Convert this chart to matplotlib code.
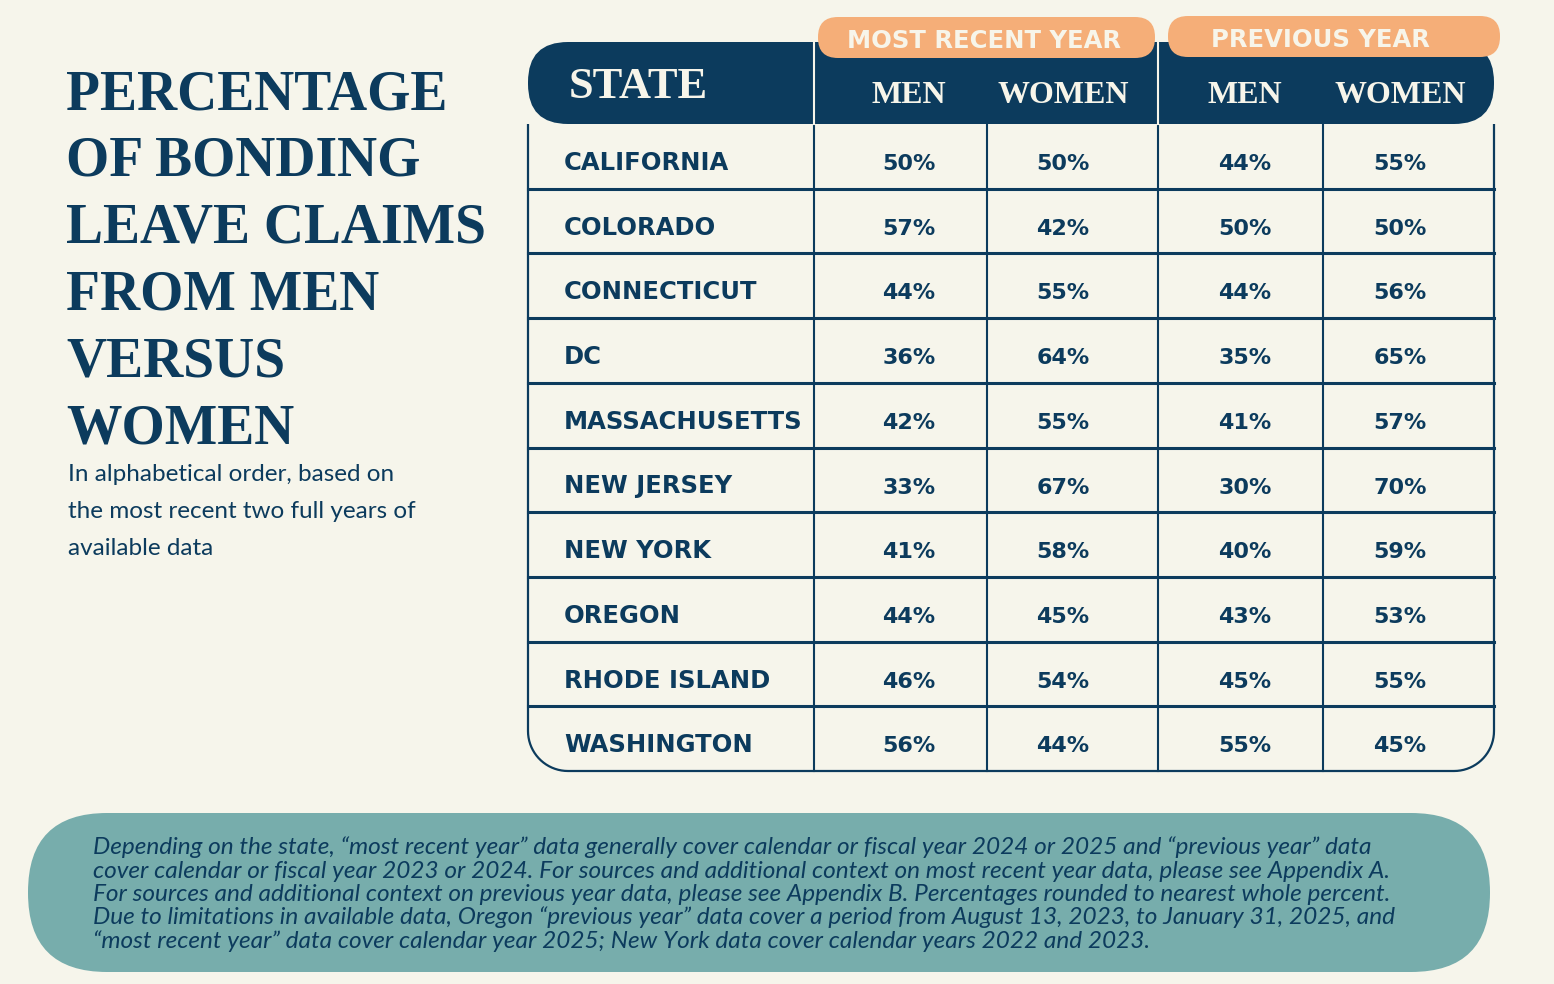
import matplotlib.pyplot as plt
import numpy as np
from matplotlib.patches import FancyBboxPatch, PathPatch
from matplotlib.path import Path

# ---- data -----------------------------------------------------------------
states = ["CALIFORNIA", "COLORADO", "CONNECTICUT", "DC", "MASSACHUSETTS",
          "NEW JERSEY", "NEW YORK", "OREGON", "RHODE ISLAND", "WASHINGTON"]
recent_men = [50, 57, 44, 36, 42, 33, 41, 44, 46, 56]
recent_women = [50, 42, 55, 64, 55, 67, 58, 45, 54, 44]
prev_men = [44, 50, 44, 35, 41, 30, 40, 43, 45, 55]
prev_women = [55, 50, 56, 65, 57, 70, 59, 53, 55, 45]

group_labels = ["MOST RECENT YEAR", "PREVIOUS YEAR"]
col_labels = ["MEN", "WOMEN", "MEN", "WOMEN"]

title_lines = ["PERCENTAGE", "OF BONDING", "LEAVE CLAIMS", "FROM MEN", "VERSUS", "WOMEN"]
subtitle_lines = ["In alphabetical order, based on",
                  "the most recent two full years of",
                  "available data"]
note_lines = [
    "Depending on the state, \u201cmost recent year\u201d data generally cover calendar or fiscal year 2024 or 2025 and \u201cprevious year\u201d data",
    "cover calendar or fiscal year 2023 or 2024. For sources and additional context on most recent year data, please see Appendix A.",
    "For sources and additional context on previous year data, please see Appendix B. Percentages rounded to nearest whole percent.",
    "Due to limitations in available data, Oregon \u201cprevious year\u201d data cover a period from August 13, 2023, to January 31, 2025, and",
    "\u201cmost recent year\u201d data cover calendar year 2025; New York data cover calendar years 2022 and 2023.",
]

# ---- style ----------------------------------------------------------------
BG = "#F6F5EB"
NAVY = "#0C3B5D"
ORANGE = "#F5AE78"
TEAL = "#77ADAC"
CREAM = "#F7F5EA"
SERIF = "Liberation Serif"
SANS = "Lato"

fig = plt.figure(figsize=(15.54, 9.84), dpi=100, facecolor=BG)
ax = fig.add_axes([0, 0, 1, 1])
ax.set_xlim(0, 1554)
ax.set_ylim(984, 0)
ax.axis("off")

# table geometry (pixels)
left, right = 528, 1494
head_top, body_top, body_bot = 42, 124, 771
vlines = [814, 987, 1158, 1323]
col_x = [909, 1063, 1245, 1400]
row_h = (body_bot - body_top) / len(states)

# title + subtitle
for i, line in enumerate(title_lines):
    ax.text(66, 109 + i * 66.8, line, fontsize=40, fontweight="bold",
            family=SERIF, color=NAVY, va="baseline", ha="left")
for i, line in enumerate(subtitle_lines):
    ax.text(68, 481 + i * 37, line, fontsize=17.5, family=SANS,
            color=NAVY, va="baseline", ha="left")

# body outline with rounded bottom corners
r = 40
t = np.linspace(0, np.pi / 2, 20)
pts = [(left, body_top), (left, body_bot - r)]
pts += [(left + r - r * np.cos(a), body_bot - r + r * np.sin(a)) for a in t]
pts += [(right - r, body_bot)]
pts += [(right - r + r * np.sin(a), body_bot - r + r * np.cos(a)) for a in t]
pts += [(right, body_top)]
ax.add_patch(PathPatch(Path(pts), fill=False, edgecolor=NAVY, lw=1.6, zorder=2))

# grid lines
for x in vlines:
    ax.plot([x, x], [body_top, body_bot], color=NAVY, lw=1.5, zorder=2)
for i in range(1, len(states)):
    y = body_top + i * row_h
    ax.plot([left, right], [y, y], color=NAVY, lw=2.2, zorder=2)

# header band
ax.add_patch(FancyBboxPatch((left, head_top), right - left, body_top - head_top,
                            boxstyle="round,pad=0,rounding_size=40",
                            facecolor=NAVY, edgecolor="none", zorder=3))
for x in vlines[::2]:
    ax.plot([x, x], [head_top, body_top], color=CREAM, lw=1.5, zorder=4)

ax.text(569, 98, "STATE", fontsize=32, fontweight="bold", family=SERIF,
        color=CREAM, va="baseline", ha="left", zorder=5)
for x, lab in zip(col_x, col_labels):
    ax.text(x, 103, lab, fontsize=23, fontweight="bold", family=SERIF,
            color=CREAM, va="baseline", ha="center", zorder=5)

# group pills
pills = [(818, 17, 337, 41), (1168, 16, 332, 41)]
pill_text_x = [984, 1320]
for (px, py, pw, ph), tx, lab in zip(pills, pill_text_x, group_labels):
    ax.add_patch(FancyBboxPatch((px, py), pw, ph,
                                boxstyle="round,pad=0,rounding_size=20",
                                facecolor=ORANGE, edgecolor="none", zorder=6))
    ax.text(tx, py + 31, lab, fontsize=17.5, fontweight="bold",
            family="DejaVu Sans", color=CREAM, va="baseline", ha="center", zorder=7)

# rows
columns = [recent_men, recent_women, prev_men, prev_women]
for i, st in enumerate(states):
    yb = body_top + i * row_h + 46
    ax.text(564, yb, st, fontsize=17.5, fontweight="bold", family="DejaVu Sans",
            color=NAVY, va="baseline", ha="left", zorder=5)
    for x, vals in zip(col_x, columns):
        ax.text(x, yb, f"{vals[i]}%", fontsize=16, fontweight="bold",
                family="DejaVu Sans", color=NAVY, va="baseline", ha="center", zorder=5)

# note box
ax.add_patch(FancyBboxPatch((28, 813), 1462, 159,
                            boxstyle="round,pad=0,rounding_size=79",
                            facecolor=TEAL, edgecolor="none", zorder=1))
for i, line in enumerate(note_lines):
    ax.text(93, 854 + i * 23.5, line, fontsize=17.6, style="italic",
            family=SANS, color=NAVY, va="baseline", ha="left", zorder=2)

fig.savefig("out.png", dpi=100, facecolor=BG)
